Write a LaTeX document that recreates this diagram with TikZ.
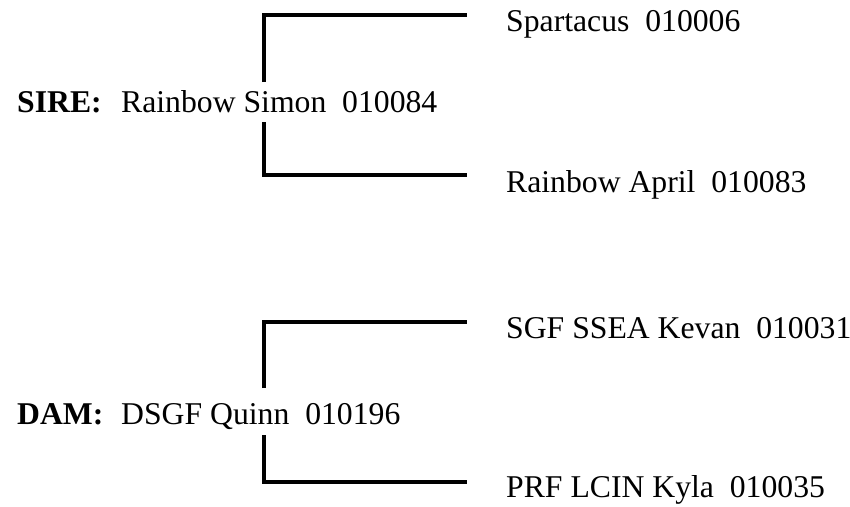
\documentclass[tikz,border=0pt]{standalone}
\usepackage{fontspec}
\setmainfont{Liberation Serif}
\newcommand{\pedfont}{\fontsize{31.7}{38}\selectfont}
\tikzset{
  pedname/.style={anchor=base west, inner sep=0pt, font=\pedfont},
  pedlabel/.style={anchor=base west, inner sep=0pt, font=\pedfont\bfseries},
  bracket/.style={line width=3.6pt}
}
\begin{document}
\begin{tikzpicture}[x=1pt, y=-1pt]
  \useasboundingbox (0,0) rectangle (850,506);

  % Marking sire
  \node [pedlabel] (sirelbl) at (17,112) {SIRE:};
  \node [pedname] (sire) at (121,112) {Rainbow Simon\ \ 010084};

  % Marking sire parents
  \node [pedname] (sirea) at (506,31) {Spartacus\ \ 010006};
  \node [pedname] (sireb) at (506,192) {Rainbow April\ \ 010083};

  % Marking dam
  \node [pedlabel] (damlbl) at (17,424) {DAM:};
  \node [pedname] (dam) at (121,424) {DSGF Quinn\ \ 010196};

  % Marking dam parents
  \node [pedname] (dama) at (506,338) {SGF SSEA Kevan\ \ 010031};
  \node [pedname] (damb) at (506,497) {PRF LCIN Kyla\ \ 010035};

  % Fork points and bracket ends
  \coordinate (sirefork) at (264,112);
  \coordinate (sireaend) at (467,15);
  \coordinate (sirebend) at (467,175);
  \coordinate (damfork) at (264,424);
  \coordinate (damaend) at (467,322);
  \coordinate (dambend) at (467,482);

  % Drawing bracket of sire
  \draw [bracket] ([yshift=30pt]sire.base -| sirefork) |- (sireaend);
  \draw [bracket] ([yshift=-10pt]sire.base -| sirefork) |- (sirebend);

  % Drawing bracket of dam
  \draw [bracket] ([yshift=36pt]dam.base -| damfork) |- (damaend);
  \draw [bracket] ([yshift=-11pt]dam.base -| damfork) |- (dambend);
\end{tikzpicture}
\end{document}
